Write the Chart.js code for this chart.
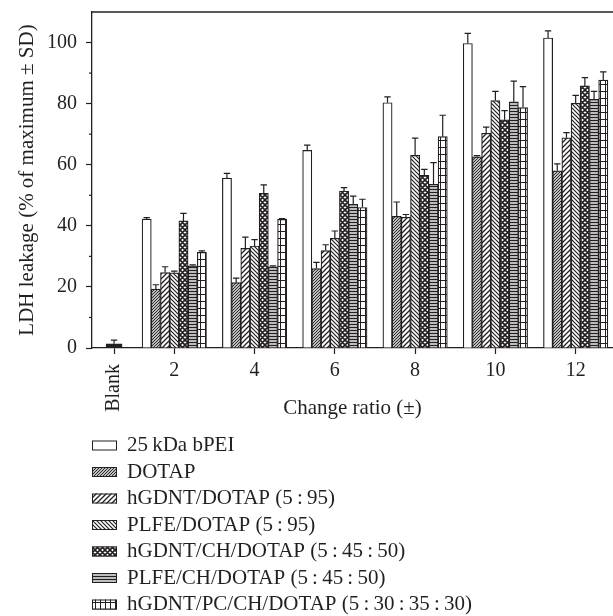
<!DOCTYPE html>
<html>
<head>
<meta charset="utf-8">
<script src="https://cdn.jsdelivr.net/npm/chart.js@4"></script>
<style>
html,body{margin:0;padding:0;background:#fff;}
canvas{display:block;}
</style>
</head>
<body>
<canvas id="c" width="613" height="616"></canvas>
<script>
// ---- data ----
const categoryLabels = ['Blank', '2', '4', '6', '8', '10', '12'];
const categoryPositions = [0.5, 2, 4, 6, 8, 10, 12];
const ratios = categoryPositions.slice(1);

const seriesNames = [
  '25\u2009kDa bPEI',
  'DOTAP',
  'hGDNT/DOTAP (5\u2009:\u200995)',
  'PLFE/DOTAP (5\u2009:\u200995)',
  'hGDNT/CH/DOTAP (5\u2009:\u200945\u2009:\u200950)',
  'PLFE/CH/DOTAP (5\u2009:\u200945\u2009:\u200950)',
  'hGDNT/PC/CH/DOTAP (5\u2009:\u200930\u2009:\u200935\u2009:\u200930)'
];

const bPEI            = [42.2, 55.6, 64.7, 80.3, 99.7, 101.5];
const bPEI_sd         = [0.5, 1.6, 1.7, 1.9, 3.3, 2.3];
const DOTAP           = [19.3, 21.4, 26.0, 43.1, 62.6, 58.0];
const DOTAP_sd        = [1.4, 1.5, 2.0, 4.7, 0.4, 2.3];
const hGDNT_DOTAP     = [24.7, 32.6, 31.9, 42.8, 70.3, 68.8];
const hGDNT_DOTAP_sd  = [1.9, 3.7, 1.9, 0.9, 2.0, 1.7];
const PLFE_DOTAP      = [24.6, 33.4, 35.9, 63.1, 81.0, 80.1];
const PLFE_DOTAP_sd   = [0.6, 2.1, 2.4, 5.6, 3.0, 2.6];
const hGDNT_CH_DOTAP  = [41.6, 50.6, 51.4, 56.5, 74.7, 85.8];
const hGDNT_CH_DOTAP_sd = [2.5, 2.8, 1.1, 2.0, 3.0, 2.7];
const PLFE_CH_DOTAP   = [26.9, 26.6, 47.0, 53.6, 80.6, 81.4];
const PLFE_CH_DOTAP_sd = [0.3, 0.3, 2.7, 7.1, 6.8, 2.6];
const hGDNT_PC_CH_DOTAP = [31.3, 42.1, 46.0, 69.2, 78.7, 87.7];
const hGDNT_PC_CH_DOTAP_sd = [0.5, 0.3, 2.7, 7.0, 6.9, 2.7];

const blankMean = [1.4];
const blankSD = [1.2];

const yTicks = [0, 20, 40, 60, 80, 100];
const yMinorTicks = [10, 30, 50, 70, 90];

// ---- styling ----
const FONT = "'Liberation Serif', 'Times New Roman', serif";
const INK = '#231f20';
const canvas = document.getElementById('c');
const mainCtx = canvas.getContext('2d');

function makePattern(kind) {
  const t = document.createElement('canvas');
  let w = 4, h = 4;
  if (kind === 'fwdDense') { w = h = 3; }
  else if (kind === 'fwdSparse') { w = h = 5; }
  else if (kind === 'backDense') { w = h = 4; }
  else if (kind === 'cross') { w = h = 5; }
  else if (kind === 'horiz') { w = 4; h = 3; }
  else if (kind === 'grid') { w = 5; h = 7; }
  t.width = w; t.height = h;
  const g = t.getContext('2d');
  g.fillStyle = '#fff';
  g.fillRect(0, 0, w, h);
  g.strokeStyle = INK;
  g.fillStyle = INK;
  if (kind === 'fwdDense' || kind === 'fwdSparse') {
    g.lineWidth = kind === 'fwdDense' ? 1.1 : 1.3;
    g.beginPath();
    for (let k = -1; k <= 1; k++) { g.moveTo(k * w - 1, h + 1); g.lineTo(k * w + w + 1, -1); }
    g.stroke();
  } else if (kind === 'backDense') {
    g.lineWidth = 1.2;
    g.beginPath();
    for (let k = -1; k <= 1; k++) { g.moveTo(k * w - 1, -1); g.lineTo(k * w + w + 1, h + 1); }
    g.stroke();
  } else if (kind === 'cross') {
    g.lineWidth = 1.6;
    g.beginPath();
    for (let k = -1; k <= 1; k++) {
      g.moveTo(k * w - 1, h + 1); g.lineTo(k * w + w + 1, -1);
      g.moveTo(k * w - 1, -1); g.lineTo(k * w + w + 1, h + 1);
    }
    g.stroke();
  } else if (kind === 'horiz') {
    g.fillStyle = '#bdbdbd';
    g.fillRect(0, 1, w, 2);
    g.fillStyle = INK;
    g.fillRect(0, 0, w, 1);
  } else if (kind === 'grid') {
    g.fillRect(0, 0, 1, h);
    g.fillRect(0, 0, w, 1);
  }
  return mainCtx.createPattern(t, 'repeat');
}

const seriesValues = [bPEI, DOTAP, hGDNT_DOTAP, PLFE_DOTAP, hGDNT_CH_DOTAP, PLFE_CH_DOTAP, hGDNT_PC_CH_DOTAP];
const seriesSD = [bPEI_sd, DOTAP_sd, hGDNT_DOTAP_sd, PLFE_DOTAP_sd, hGDNT_CH_DOTAP_sd, PLFE_CH_DOTAP_sd, hGDNT_PC_CH_DOTAP_sd];
const seriesFills = ['#ffffff', makePattern('fwdDense'), makePattern('fwdSparse'), makePattern('backDense'),
                     makePattern('cross'), makePattern('horiz'), makePattern('grid')];

const datasets = seriesValues.map((vals, i) => ({
  label: seriesNames[i],
  data: ratios.map((r, j) => ({ x: r, y: vals[j] })),
  sd: seriesSD[i],
  backgroundColor: seriesFills[i],
  borderColor: INK,
  borderWidth: 1.2,
  barThickness: 9.2,
  grouped: true,
  showInLegend: true
}));
datasets.push({
  label: categoryLabels[0],
  data: [{ x: categoryPositions[0], y: blankMean[0] }],
  sd: blankSD,
  backgroundColor: INK,
  borderColor: INK,
  borderWidth: 1,
  barThickness: 16,
  grouped: false,
  showInLegend: false
});

const decorPlugin = {
  id: 'decor',
  afterDatasetsDraw(chart) {
    const ctx = chart.ctx, ys = chart.scales.y;
    ctx.save();
    ctx.strokeStyle = INK;
    ctx.lineWidth = 1.2;
    chart.data.datasets.forEach((ds, i) => {
      const meta = chart.getDatasetMeta(i);
      meta.data.forEach((bar, j) => {
        const top = ys.getPixelForValue(ds.data[j].y + ds.sd[j]);
        ctx.beginPath();
        ctx.moveTo(bar.x, bar.y);
        ctx.lineTo(bar.x, top);
        ctx.moveTo(bar.x - 3.2, top);
        ctx.lineTo(bar.x + 3.2, top);
        ctx.stroke();
      });
    });
    ctx.restore();
  },
  afterDraw(chart) {
    const ctx = chart.ctx, area = chart.chartArea, xs = chart.scales.x, ys = chart.scales.y;
    ctx.save();
    // top frame line
    ctx.strokeStyle = INK;
    ctx.lineWidth = 1.3;
    ctx.beginPath();
    ctx.moveTo(area.left, area.top);
    ctx.lineTo(area.right, area.top);
    ctx.stroke();
    // minor y ticks
    ctx.lineWidth = 1.2;
    yMinorTicks.forEach(v => {
      const py = ys.getPixelForValue(v);
      ctx.beginPath();
      ctx.moveTo(area.left - 3, py);
      ctx.lineTo(area.left, py);
      ctx.stroke();
    });
    // rotated "Blank" tick label
    ctx.fillStyle = INK;
    ctx.font = '20px ' + FONT;
    ctx.translate(xs.getPixelForValue(categoryPositions[0]), area.bottom + 16);
    ctx.rotate(-Math.PI / 2);
    ctx.textAlign = 'right';
    ctx.textBaseline = 'middle';
    ctx.fillText(categoryLabels[0], 0, 0);
    ctx.restore();

    // legend (vertical list below the chart)
    ctx.save();
    ctx.font = '21px ' + FONT;
    ctx.textAlign = 'left';
    ctx.textBaseline = 'middle';
    const x0 = area.left;
    const y0 = xs.bottom + 22.5;
    let row = 0;
    chart.data.datasets.forEach(ds => {
      if (!ds.showInLegend) return;
      const cy = y0 + row * 26.5;
      ctx.fillStyle = ds.backgroundColor;
      ctx.fillRect(x0, cy - 5, 25, 10);
      ctx.strokeStyle = INK;
      ctx.lineWidth = 1;
      ctx.strokeRect(x0 + 0.5, cy - 5 + 0.5, 24, 9);
      ctx.fillStyle = INK;
      ctx.fillText(ds.label, x0 + 35, cy);
      row++;
    });
    ctx.restore();
  }
};

new Chart(canvas, {
  type: 'bar',
  data: { datasets },
  options: {
    responsive: false,
    devicePixelRatio: 1,
    animation: false,
    layout: { padding: { top: 12, right: 0, bottom: 193, left: 0 } },
    plugins: { legend: { display: false }, tooltip: { enabled: false } },
    scales: {
      x: {
        type: 'linear',
        min: -0.05,
        max: 12.93,
        offset: false,
        grid: { display: true, drawOnChartArea: false, offset: false, tickLength: 6, tickColor: INK, tickWidth: 1.2 },
        border: { display: true, color: INK, width: 1.3 },
        afterBuildTicks: s => { s.ticks = categoryPositions.map(v => ({ value: v })); },
        ticks: {
          autoSkip: false, maxRotation: 0, minRotation: 0, padding: 5, color: INK,
          font: { family: FONT, size: 20 },
          callback: v => { const i = categoryPositions.indexOf(v); return i <= 0 ? '' : categoryLabels[i]; }
        },
        title: { display: true, text: 'Change ratio (±)', color: INK, font: { family: FONT, size: 21 }, padding: { top: 0, bottom: 2 } },
        afterFit: s => { s.height = 75; s.paddingLeft = 0; s.paddingRight = 0; }
      },
      y: {
        min: 0,
        max: 110,
        afterBuildTicks: s => { s.ticks = yTicks.map(v => ({ value: v })); },
        ticks: { padding: 9, color: INK, font: { family: FONT, size: 20 } },
        grid: { display: true, drawOnChartArea: false, tickLength: 6, tickColor: INK, tickWidth: 1.2 },
        border: { display: true, color: INK, width: 1.3 },
        title: { display: true, text: 'LDH leakage (% of maximum ± SD)', color: INK, font: { family: FONT, size: 21 }, padding: { top: 15, bottom: 0 } },
        afterFit: s => { s.width = 92; s.paddingTop = 0; s.paddingBottom = 0; }
      }
    }
  },
  plugins: [decorPlugin]
});
</script>
</body>
</html>
